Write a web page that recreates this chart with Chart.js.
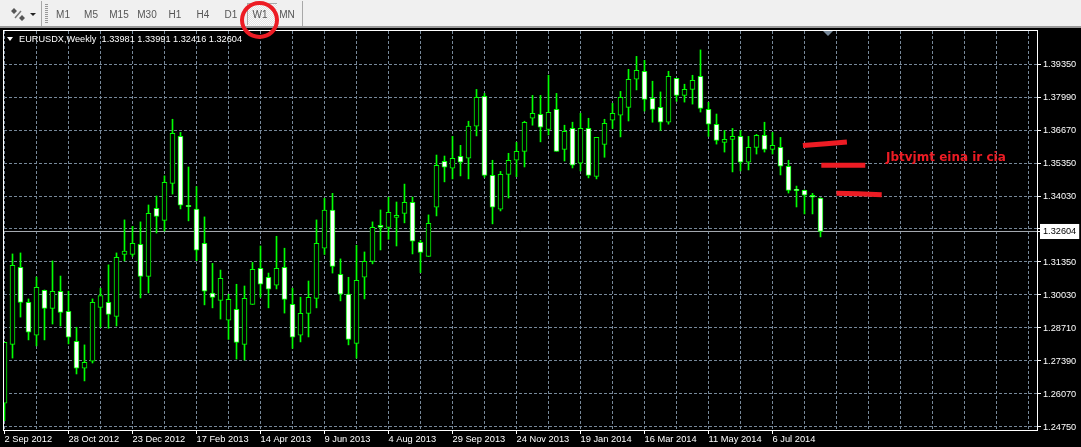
<!DOCTYPE html>
<html>
<head>
<meta charset="utf-8">
<title>EURUSDX,Weekly</title>
<script src="https://cdn.jsdelivr.net/npm/chart.js@4"></script>
<style>
  html, body { margin: 0; padding: 0; background: #000; overflow: hidden; }
  #wrap { position: relative; width: 1081px; height: 447px; font-family: "Liberation Sans", sans-serif; }
  canvas { position: absolute; left: 0; top: 0; }
  #toolbar { position: absolute; left: 0; top: 0; width: 1081px; height: 26px; background: #f0f0f0; border-bottom: 2px solid #9a9a9a; }
  #toolbar span { position: absolute; top: 9px; width: 28px; text-align: center; font-size: 10px; line-height: 11px; color: #555; }
  .sep { position: absolute; top: 1px; width: 1px; height: 25px; background: #a8a8a8; }
  #grip { position: absolute; left: 45px; top: 4px; width: 3px; height: 19px; background: repeating-linear-gradient(#999 0 1px, #f0f0f0 1px 2px); }
  #w1btn { position: absolute; left: 247px; top: 3px; width: 29px; height: 21px; border-top: 1px solid #aaa; border-left: 1px solid #aaa;
    background: repeating-conic-gradient(#e2e2e2 0 25%, #fafafa 0 50%) 0 0 / 2px 2px; }
  #circle { position: absolute; left: 240px; top: 1px; width: 31px; height: 30px; border: 4px solid #ed1c24; border-radius: 50%; }
  #head { position: absolute; left: 19px; top: 33px; font-size: 9.2px; line-height: 12px; color: #fff; white-space: pre; }
  #tri { position: absolute; left: 7px; top: 37px; width: 0; height: 0; border-left: 3.5px solid transparent; border-right: 3.5px solid transparent; border-top: 4px solid #fff; }
  #shift { position: absolute; left: 823px; top: 31px; width: 0; height: 0; border-left: 5px solid transparent; border-right: 5px solid transparent; border-top: 5px solid #778899; }
  #note { position: absolute; left: 886px; top: 150px; font-family: "DejaVu Sans", sans-serif; font-weight: bold; font-size: 12px; line-height: 15px; color: #ed1c24; white-space: pre; }
</style>
</head>
<body>
<div id="wrap">
  <canvas id="chart" width="1081" height="447"></canvas>
  <div id="toolbar">
    <svg style="position:absolute;left:10px;top:7px" width="26" height="16">
      <path d="M1 4l3-3 3 3-3 3zM9 11l3-3 3 3-3 3z" fill="#555"/><path d="M5 11l6-7" stroke="#777" stroke-width="1.5"/>
      <path d="M20 6h6l-3 3z" fill="#222"/>
    </svg>
    <div class="sep" style="left:41px"></div>
    <div id="grip"></div>
    <div id="w1btn"></div>
    <span style="left:49px">M1</span>
    <span style="left:77px">M5</span>
    <span style="left:105px">M15</span>
    <span style="left:133px">M30</span>
    <span style="left:161px">H1</span>
    <span style="left:189px">H4</span>
    <span style="left:217px">D1</span>
    <span style="left:246px">W1</span>
    <span style="left:273px">MN</span>
    <div class="sep" style="left:302px"></div>
  </div>
  <div id="circle"></div>
  <div id="tri"></div>
  <div id="head">EURUSDX,Weekly  1.33981 1.33991 1.32416 1.32604</div>
  <div id="shift"></div>
  <div id="note">Jbtvjmt eina ir cia</div>
</div>
<script>
// weekly candles, index 0 = week of 2 Sep 2012
const opens = [
  1.2572,1.2809,1.3119,1.2978,1.2846,1.3027,1.2954,1.3023,1.2942,1.2821,1.2713,1.2741,1.2958,1.2978,1.2922,1.3171,
  1.3171,1.3212,1.3083,1.3357,1.3308,1.3457,1.3646,1.3369,1.3353,1.3216,1.3015,1.2986,1.2906,1.2950,1.2809,1.2970,
  1.3115,1.3079,1.3047,1.3119,1.2970,1.2846,1.2934,1.2994,1.3196,1.3349,1.3091,1.3011,1.2813,1.3079,1.3143,1.3288,
  1.3280,1.3320,1.3336,1.3381,1.3220,1.3163,1.3361,1.3546,1.3518,1.3566,1.3558,1.3687,1.3807,1.3489,1.3353,1.3493,
  1.3550,1.3586,1.3719,1.3735,1.3674,1.3755,1.3594,1.3678,1.3538,1.3678,1.3485,1.3614,1.3711,1.3731,1.3763,1.3876,
  1.3908,1.3799,1.3763,1.3703,1.3880,1.3811,1.3835,1.3888,1.3755,1.3695,1.3622,1.3634,1.3646,1.3542,1.3602,1.3650,
  1.3594,1.3602,1.3526,1.3433,1.3429,1.3409,1.33981
];
const highs = [
  1.2817,1.3173,1.3177,1.2992,1.3080,1.3028,1.3145,1.3084,1.3023,1.2878,1.2807,1.2992,1.3035,1.3129,1.3177,1.3310,
  1.3284,1.3302,1.3370,1.3406,1.3487,1.3715,1.3662,1.3523,1.3444,1.3322,1.3135,1.3108,1.3011,1.3051,1.3044,1.3139,
  1.3205,1.3096,1.3244,1.3196,1.3035,1.2999,1.3064,1.3310,1.3397,1.3417,1.3153,1.3079,1.3208,1.3181,1.3302,1.3350,
  1.3401,1.3382,1.3454,1.3402,1.3228,1.3330,1.3571,1.3567,1.3646,1.3610,1.3707,1.3835,1.3819,1.3550,1.3505,1.3578,
  1.3622,1.3707,1.3811,1.3811,1.3892,1.3819,1.3691,1.3703,1.3739,1.3719,1.3642,1.3715,1.3779,1.3827,1.3916,1.3968,
  1.3952,1.3868,1.3825,1.3908,1.3880,1.3856,1.3892,1.3994,1.3783,1.3736,1.3670,1.3678,1.3670,1.3646,1.3654,1.3703,
  1.3662,1.3642,1.3550,1.3446,1.3430,1.3417,1.33991
];
const lows = [
  1.2502,1.2754,1.2919,1.2827,1.2803,1.2827,1.2891,1.2883,1.2811,1.2690,1.2662,1.2734,1.2878,1.2874,1.2883,1.3145,
  1.3163,1.2996,1.3016,1.3257,1.3265,1.3414,1.3354,1.3306,1.3146,1.2968,1.2956,1.2911,1.2829,1.2750,1.2746,1.2970,
  1.2999,1.2956,1.3032,1.2935,1.2793,1.2819,1.2839,1.2956,1.3171,1.3096,1.2984,1.2807,1.2754,1.2992,1.3133,1.3189,
  1.3232,1.3205,1.3298,1.3173,1.3098,1.3163,1.3326,1.3463,1.3475,1.3487,1.3475,1.3648,1.3481,1.3294,1.3346,1.3398,
  1.3484,1.3523,1.3691,1.3624,1.3652,1.3586,1.3547,1.3519,1.3507,1.3479,1.3475,1.3562,1.3678,1.3644,1.3708,1.3833,
  1.3748,1.3703,1.3670,1.3695,1.3787,1.3784,1.3776,1.3744,1.3646,1.3615,1.3583,1.3503,1.3507,1.3511,1.3575,1.3583,
  1.3575,1.3491,1.3418,1.3362,1.3334,1.3334,1.32416
];
const closes = [
  1.2817,1.3127,1.2978,1.2858,1.3039,1.2954,1.3023,1.2938,1.2838,1.2713,1.2737,1.2978,1.3005,1.2930,1.3159,1.3184,
  1.3216,1.3083,1.3336,1.3324,1.3461,1.3658,1.3369,1.3363,1.3188,1.3023,1.2998,1.3075,1.2990,1.2817,1.2994,1.3111,
  1.3051,1.3031,1.3115,1.2990,1.2838,1.2934,1.2998,1.3216,1.3349,1.3123,1.3011,1.2829,1.3067,1.3143,1.3280,1.3280,
  1.3340,1.3328,1.3381,1.3224,1.3179,1.3296,1.3530,1.3522,1.3558,1.3542,1.3687,1.3803,1.3489,1.3361,1.3493,1.3550,
  1.3586,1.3703,1.3739,1.3683,1.3743,1.3586,1.3666,1.3530,1.3678,1.3489,1.3642,1.3699,1.3739,1.3803,1.3876,1.3912,
  1.3795,1.3755,1.3703,1.3888,1.3811,1.3835,1.3872,1.3759,1.3695,1.3630,1.3634,1.3646,1.3542,1.3602,1.3650,1.3594,
  1.3610,1.3526,1.3429,1.3428,1.3409,1.3401,1.32633
];

const priceLevel = 1.32633;
const xTickLabels = ['2 Sep 2012','28 Oct 2012','23 Dec 2012','17 Feb 2013','14 Apr 2013','9 Jun 2013','4 Aug 2013',
  '29 Sep 2013','24 Nov 2013','19 Jan 2014','16 Mar 2014','11 May 2014','6 Jul 2014'];
// MT4 snaps the grid to pixels, so the lines sit a hair away from their printed value
const yGrid = [1.39373,1.38045,1.36717,1.35389,1.34061,1.32734,1.31406,1.30078,1.2875,1.27422,1.26094,1.24766];
const yTickLabels = ['1.39350','1.37990','1.36670','1.35350','1.34030','','1.31350','1.30030','1.28710','1.27390','1.26070','1.24750'];
const priceLabel = '1.32604';
const gridWeeks = [0,4,8,12,16,20,24,28,32,36,40,44,48,52,56,60,64,68,72,76,80,84,88,92,96,100,104,108,112,116,120,124,128];

// red hand drawn strokes on the chart
const strokeA = [{x:99.8,y:1.3609},{x:102.7,y:1.3616},{x:105.3,y:1.3623}];
const strokeB = [{x:102.1,y:1.3530},{x:107.6,y:1.3530}];
const strokeC = [{x:104.0,y:1.3417},{x:106.7,y:1.3415},{x:109.65,y:1.3411}];

const GREEN = '#00ff00';
const GRID = '#778899';

const wickData = opens.map((o, i) => ({x: i, y: [lows[i], highs[i]]}));
const upData = [];
const downData = [];
opens.forEach((o, i) => {
  if (closes[i] >= o) upData.push({x: i, y: [o, closes[i]]});
  else downData.push({x: i, y: [closes[i], o]});
});

function stroke(data) {
  return {type: 'line', data, borderColor: '#ed1c24', borderWidth: 5, pointRadius: 0, tension: 0, order: 0};
}

// MT4 draws a box all round the plot
const frame = {
  id: 'frame',
  afterDraw(chart) {
    const c = chart.ctx;
    const a = chart.chartArea;
    c.save();
    c.strokeStyle = '#fff';
    c.lineWidth = 1;
    c.strokeRect(a.left - 0.5, a.top - 0.5, a.right - a.left + 1, a.bottom - a.top + 1);
    c.restore();
  }
};

Chart.defaults.font.family = '"Liberation Sans", sans-serif';

new Chart(document.getElementById('chart'), {
  type: 'bar',
  data: {
    datasets: [
      {type: 'line', data: [{x: -0.0625, y: priceLevel}, {x: 129.0625, y: priceLevel}], borderColor: '#a8adb3', borderWidth: 1, pointRadius: 0, order: 5},
      {data: wickData, backgroundColor: GREEN, barThickness: 1, order: 4},
      {data: upData, backgroundColor: '#000', borderColor: GREEN, borderWidth: 1, borderSkipped: false, barThickness: 5, order: 3},
      {data: downData, backgroundColor: '#fff', borderColor: GREEN, borderWidth: 1, borderSkipped: false, barThickness: 5, order: 2},
      stroke(strokeA), stroke(strokeB), stroke(strokeC)
    ]
  },
  options: {
    responsive: false,
    animation: false,
    devicePixelRatio: 1,
    layout: {autoPadding: false, padding: {left: 4, top: 31, right: 0, bottom: 0}},
    plugins: {legend: {display: false}, tooltip: {enabled: false}},
    scales: {
      x: {
        type: 'linear',
        stacked: true,
        offset: false,
        min: -0.0625,
        max: 129.0625,
        afterFit: s => { s.height = 17; },
        afterBuildTicks: s => { s.ticks = gridWeeks.map(v => ({value: v})); },
        border: {display: false, dash: [3, 2]},
        grid: {
          offset: false,
          color: GRID,
          tickLength: 4,
          tickColor: ctx => (ctx.tick && ctx.tick.value % 8 === 0 && ctx.tick.value <= 96) ? '#fff' : 'transparent'
        },
        ticks: {
          autoSkip: false,
          maxRotation: 0,
          align: 'start',
          padding: 0,
          color: '#fff',
          font: {size: 9.3},
          callback: v => (v % 8 === 0 && xTickLabels[v / 8]) || ''
        }
      },
      y: {
        type: 'linear',
        position: 'right',
        min: 1.24645,
        max: 1.40701,
        afterFit: s => { s.width = 44; },
        afterBuildTicks: s => { s.ticks = yGrid.concat(priceLevel).map(v => ({value: v})); },
        border: {display: false, dash: [3, 2]},
        grid: {
          color: ctx => (ctx.tick && ctx.tick.value === priceLevel) ? 'transparent' : GRID,
          tickLength: 4,
          tickColor: '#fff'
        },
        ticks: {
          autoSkip: false,
          padding: 2,
          font: {size: 9.2},
          color: ctx => ctx.tick.value === priceLevel ? '#000' : '#fff',
          showLabelBackdrop: ctx => ctx.tick.value === priceLevel,
          backdropColor: '#fff',
          backdropPadding: {x: 3, y: 2},
          callback: (v, i) => i < yTickLabels.length ? yTickLabels[i] : priceLabel
        }
      }
    }
  },
  plugins: [frame]
});
</script>
</body>
</html>
